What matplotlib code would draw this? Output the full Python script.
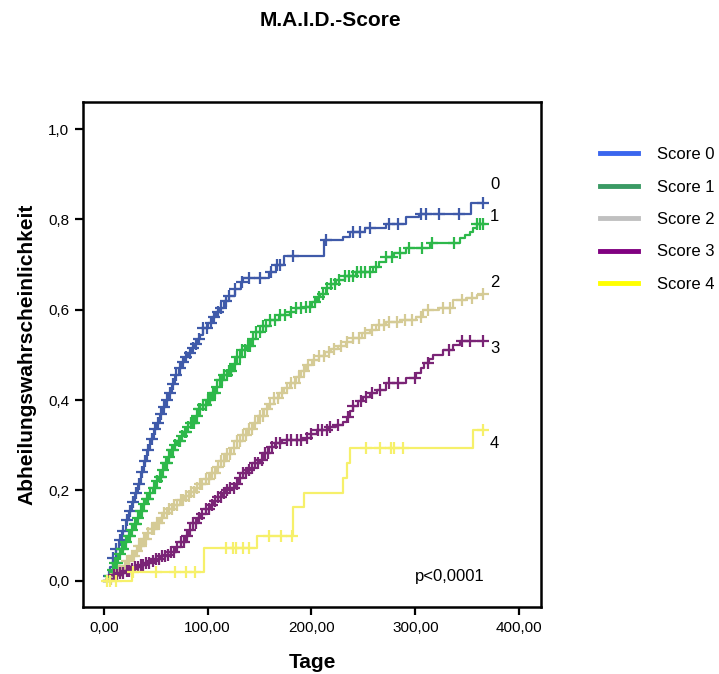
import numpy as np
import matplotlib
matplotlib.use("Agg")
import matplotlib.pyplot as plt
from matplotlib.lines import Line2D

plt.rcParams['font.family'] = ['Liberation Sans', 'DejaVu Sans']

# Kaplan-Meier style cumulative curves (time in days, value after each step)
t0 = [0, 3, 6, 9, 12, 15, 18, 21, 24, 27, 30, 33, 36, 39, 42, 45, 48, 51, 54, 57, 60, 63, 66, 69,
      72, 75, 78, 81, 84, 87, 90, 93, 96, 100, 104, 108, 112, 116, 121, 126, 132, 134, 159, 166,
      174, 212, 230, 237, 252, 272, 291, 304, 354]
y0 = [0, .01, .03, .05, .07, .09, .11, .135, .155, .175, .195, .215, .24, .265, .29, .315, .335,
      .35, .37, .385, .40, .415, .435, .455, .47, .485, .495, .505, .515, .525, .535, .545, .56,
      .57, .585, .595, .605, .62, .63, .645, .662, .67, .684, .70, .72, .754, .76, .773, .78, .79,
      .806, .813, .836]
c0 = [5, 9, 12, 16, 19, 22, 25, 28, 31, 34, 37, 40, 43, 46, 49, 52, 55, 58, 61, 64, 67, 70, 73,
      76, 79, 83, 86, 89, 92, 96, 99, 103, 106, 110, 113, 118, 121, 126, 133, 140, 150, 161, 167,
      170, 182, 214, 240, 247, 256, 275, 283, 305, 310, 323, 342, 365]

t1 = [0, 5, 8, 11, 14, 17, 20, 23, 26, 29, 32, 35, 38, 41, 44, 47, 50, 53, 56, 59, 62, 65, 68,
      71, 74, 77, 80, 84, 88, 92, 96, 100, 104, 108, 112, 116, 120, 124, 128, 132, 137, 142, 147,
      153, 160, 169, 179, 185, 195, 201, 205, 208, 214, 219, 224, 232, 243, 259, 265, 272, 279,
      291, 314, 343, 348, 353, 356, 359]
y1 = [0, .01, .025, .04, .06, .07, .085, .10, .113, .125, .14, .155, .17, .18, .195, .205, .22,
      .23, .245, .26, .275, .29, .30, .31, .32, .33, .34, .35, .365, .38, .39, .40, .415, .43,
      .445, .455, .465, .48, .495, .51, .52, .535, .55, .563, .578, .588, .594, .603, .607, .618,
      .628, .636, .648, .656, .666, .675, .684, .695, .705, .717, .725, .736, .747, .758, .765,
      .773, .782, .79]
c1 = [6, 9, 11, 13, 16, 18, 19, 21, 24, 25, 27, 30, 31, 33, 36, 37, 39, 42, 43, 45, 48, 49, 51,
      54, 55, 57, 60, 61, 63, 66, 67, 69, 72, 73, 75, 78, 79, 81, 84, 86, 87, 90, 92, 93, 96, 98,
      100, 102, 105, 107, 109, 112, 114, 116, 119, 121, 123, 126, 128, 131, 133, 136, 139, 141,
      144, 147, 150, 153, 156, 160, 165, 170, 175, 180, 185, 190, 195, 199, 203, 207, 211, 215,
      219, 223, 227, 232, 236, 240, 244, 248, 252, 256, 262, 272, 278, 285, 294, 306, 316, 337,
      359, 362, 365]

t2 = [0, 5, 10, 14, 18, 22, 26, 30, 34, 38, 42, 46, 50, 54, 58, 63, 68, 73, 78, 83, 88, 93, 98,
      103, 108, 113, 118, 123, 128, 134, 139, 144, 149, 154, 159, 164, 169, 174, 179, 185, 190,
      195, 201, 207, 213, 219, 226, 233, 240, 249, 256, 262, 272, 285, 301, 307, 323, 336, 349,
      359, 364]
y2 = [0, .005, .012, .022, .033, .044, .054, .066, .078, .092, .105, .115, .128, .14, .15, .16,
      .168, .178, .188, .197, .205, .215, .226, .238, .252, .266, .28, .295, .31, .322, .335, .35,
      .365, .38, .392, .404, .415, .426, .438, .452, .465, .477, .489, .498, .506, .513, .52, .528,
      .537, .548, .556, .566, .574, .577, .585, .60, .603, .622, .625, .633, .636]
c2 = [7, 10, 12, 15, 17, 20, 22, 24, 27, 29, 32, 34, 36, 39, 41, 43, 46, 48, 51, 53, 56, 58, 61,
      63, 66, 68, 71, 74, 76, 79, 82, 84, 87, 90, 93, 95, 98, 101, 104, 107, 110, 113, 116, 119,
      122, 125, 128, 131, 134, 137, 140, 143, 146, 150, 153, 157, 160, 164, 168, 172, 176, 180,
      184, 188, 193, 197, 202, 207, 212, 217, 222, 228, 234, 240, 246, 252, 258, 265, 270, 275,
      282, 290, 297, 305, 312, 327, 333, 345, 355, 365]

t3 = [0, 6, 10, 15, 20, 25, 30, 35, 40, 45, 50, 55, 60, 65, 70, 74, 78, 82, 86, 90, 94, 98, 102,
      106, 110, 114, 118, 122, 126, 130, 134, 138, 142, 146, 150, 154, 159, 165, 172, 195, 200,
      205, 216, 224, 230, 234, 237, 240, 245, 250, 256, 263, 272, 291, 301, 305, 308, 313, 317,
      327, 336, 343]
y3 = [0, .005, .012, .018, .022, .026, .031, .036, .04, .044, .049, .054, .058, .064, .074, .086,
      .10, .113, .127, .138, .148, .16, .168, .176, .185, .195, .20, .205, .215, .228, .238, .245,
      .25, .26, .268, .282, .297, .305, .312, .316, .325, .334, .34, .345, .352, .362, .375, .386,
      .398, .408, .416, .423, .437, .449, .46, .471, .482, .49, .50, .511, .522, .53]
c3 = [10, 13, 16, 19, 22, 24, 27, 30, 33, 36, 38, 41, 44, 47, 50, 53, 56, 59, 62, 65, 68, 71, 74,
      77, 80, 83, 86, 89, 92, 95, 98, 101, 104, 107, 110, 113, 116, 119, 122, 125, 128, 131, 134,
      137, 140, 143, 146, 149, 152, 155, 158, 162, 166, 170, 176, 180, 186, 190, 196, 200, 206,
      210, 215, 218, 226, 235, 240, 248, 253, 258, 266, 275, 283, 300, 312, 332, 345, 353, 365]

t4 = [0, 27, 97, 148, 182, 193, 230, 234, 237, 356]
y4 = [0, .02, .072, .10, .164, .195, .227, .26, .293, .334]
c4 = [3, 6, 12, 28, 50, 69, 79, 88, 118, 124, 127, 134, 140, 159, 171, 181, 253, 266, 277, 279,
      288, 365]

groups = ["Score 0", "Score 1", "Score 2", "Score 3", "Score 4"]
curve_colors = ["#3f5aa9", "#2db84a", "#d5cb96", "#7a2476", "#f6f06a"]
legend_colors = ["#3a66ee", "#3a9a64", "#c0c0c0", "#800080", "#ffff00"]
end_labels = ["0", "1", "2", "3", "4"]
end_label_y = [0.878, 0.807, 0.66, 0.515, 0.303]

fig = plt.figure(figsize=(7.19, 6.74), dpi=100)
ax = fig.add_axes([0.1154, 0.0994, 0.637, 0.7493])

series = [(t0, y0, c0), (t1, y1, c1), (t2, y2, c2), (t3, y3, c3), (t4, y4, c4)]
for (t, y, cens), col in zip(series, curve_colors):
    t = np.array(t, float)
    y = np.array(y, float)
    xs = np.append(t, 365)
    ys = np.append(y, y[-1])
    ax.step(xs, ys, where="post", color=col, lw=1.6, zorder=3)
    cens = np.array(cens, float)
    idx = np.searchsorted(t, cens, side="right") - 1
    ax.plot(cens, y[idx], "+", color=col, ms=8, mew=1.6, zorder=3)

for lab, ly in zip(end_labels, end_label_y):
    ax.text(372, ly, lab, fontsize=12, ha="left", va="center")

ax.text(300, 0.01, "p<0,0001", fontsize=12, ha="left", va="center")

ax.set_xlim(-20, 421)
ax.set_ylim(-0.058, 1.06)
ax.set_xticks([0, 100, 200, 300, 400])
ax.set_xticklabels(["0,00", "100,00", "200,00", "300,00", "400,00"])
ax.set_yticks([0, 0.2, 0.4, 0.6, 0.8, 1.0])
ax.set_yticklabels(["0,0", "0,2", "0,4", "0,6", "0,8", "1,0"])
ax.tick_params(direction="out", length=6, width=1.6, labelsize=11, pad=4)
for s in ax.spines.values():
    s.set_linewidth(1.8)

ax.set_xlabel("Tage", fontsize=15, fontweight="bold", labelpad=13)
ax.set_ylabel("Abheilungswahrscheinlichkeit", fontsize=15, fontweight="bold", labelpad=8)
fig.text(330 / 719, 1 - 20 / 674, "M.A.I.D.-Score", fontsize=15, fontweight="bold",
         ha="center", va="center")

handles = [Line2D([0], [0], color=c, lw=3.5) for c in legend_colors]
fig.legend(handles, groups, loc="upper left", bbox_to_anchor=(585 / 719, 1 - 132 / 674),
           frameon=False, handlelength=2.28, handletextpad=1.14,
           labelspacing=1.05, prop={"size": 12})

fig.savefig("out.png", dpi=100)
